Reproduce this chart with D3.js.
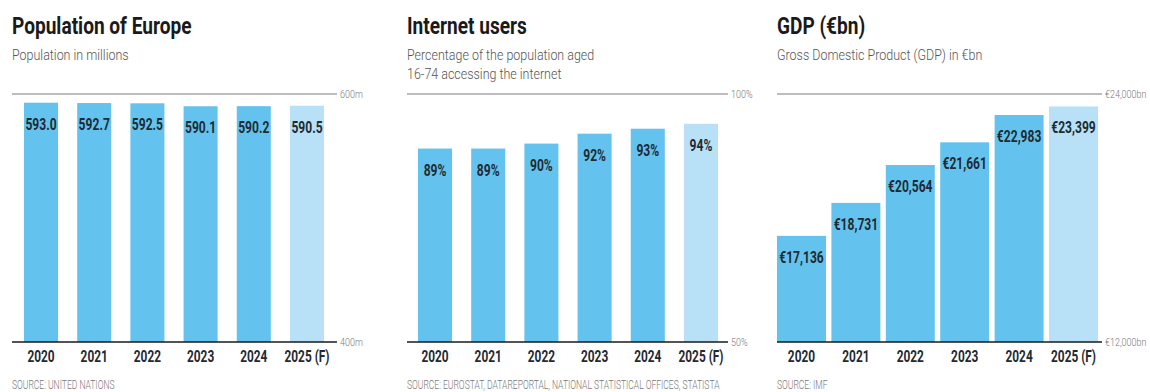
<!DOCTYPE html>
<html>
<head>
<meta charset="utf-8">
<script src="https://cdn.jsdelivr.net/npm/d3@7"></script>
<style>
  html, body { margin: 0; padding: 0; background: #fff; }
  svg { display: block; }
  text { font-family: Roboto, "Noto Sans", sans-serif; }
  .title { font-weight: 700; fill: #1a1a1a; }
  .sub { font-weight: 300; fill: #555; }
  .val, .year { font-weight: 700; fill: #1f2a33; }
  .tick-lbl { fill: #777; font-weight: 300; }
  .src { fill: #777; font-weight: 300; }
</style>
</head>
<body>
<svg id="chart" width="1150" height="392"></svg>
<script>
// Shared categories
const years = ["2020", "2021", "2022", "2023", "2024", "2025 (F)"];

// Population of Europe (millions)
const population = [593.0, 592.7, 592.5, 590.1, 590.2, 590.5];
const popTicks = [400, 600];

// Internet users (% of population aged 16-74)
const internet = [89, 89, 90, 92, 93, 94];
const netTicks = [50, 100];

// GDP (€bn)
const gdp = [17136, 18731, 20564, 21661, 22983, 23399];
const gdpTicks = [12000, 24000];

const svg = d3.select("#chart");
const BLUE = "#63c3ee";
const LIGHT = "#b8e0f6";
const TOP = 94, BASE = 342;

// Narrow the glyphs horizontally so the type reads as a condensed face.
function condense(sel, k) {
  sel.each(function () {
    const t = d3.select(this);
    const x = +t.attr("x") || 0, y = +t.attr("y") || 0;
    t.attr("x", null).attr("y", null)
      .attr("transform", `translate(${x},${y}) scale(${k},1)`);
  });
}

function panel(opts) {
  const g = svg.append("g");
  const x = d3.scaleBand().domain(years).range(opts.barRange)
    .paddingInner(opts.pad).paddingOuter(0);
  const y = d3.scaleLinear().domain(opts.ticks).range([BASE, TOP]);

  condense(g.append("text").attr("class", "title").attr("x", opts.left).attr("y", 34)
    .attr("font-size", 23).text(opts.title), 0.83);
  opts.subtitle.forEach((s, i) => {
    condense(g.append("text").attr("class", "sub").attr("x", opts.left).attr("y", 60 + i * 19)
      .attr("font-size", 14.5).text(s), 0.86);
  });

  // top reference line
  g.append("line").attr("x1", opts.left).attr("x2", opts.lineEnd)
    .attr("y1", y(opts.ticks[1])).attr("y2", y(opts.ticks[1]))
    .attr("stroke", "#bdbdbd").attr("stroke-width", 2.2);

  g.selectAll("rect").data(opts.values).join("rect")
    .attr("x", (d, i) => x(years[i]))
    .attr("width", x.bandwidth())
    .attr("y", d => y(d))
    .attr("height", d => BASE - y(d))
    .attr("fill", (d, i) => i === years.length - 1 ? LIGHT : BLUE);

  const vals = g.selectAll("text.val").data(opts.values).join("text")
    .attr("class", "val")
    .attr("x", (d, i) => x(years[i]) + x.bandwidth() / 2)
    .attr("y", d => y(d) + 27)
    .attr("text-anchor", "middle")
    .attr("font-size", 17)
    .text(opts.fmt);
  condense(vals, 0.71);

  // baseline
  g.append("line").attr("x1", opts.left).attr("x2", opts.lineEnd)
    .attr("y1", BASE).attr("y2", BASE)
    .attr("stroke", "#1a1a1a").attr("stroke-width", 1.6);

  // scale end labels
  const yAxis = d3.axisRight(y).tickValues(opts.ticks).tickSize(0).tickPadding(3)
    .tickFormat(opts.tickFmt);
  const ya = g.append("g").attr("transform", `translate(${opts.lineEnd},0)`).call(yAxis);
  ya.select(".domain").remove();
  ya.selectAll("text").attr("class", "tick-lbl").attr("font-size", 11.5).attr("fill", null)
    .attr("font-family", null);
  condense(ya.selectAll("text"), 0.78);

  const xAxis = d3.axisBottom(x).tickSize(0).tickPadding(6);
  const xa = g.append("g").attr("transform", `translate(0,${BASE})`).call(xAxis);
  xa.select(".domain").remove();
  xa.selectAll("text").attr("class", "year").attr("font-size", 16.5).attr("fill", null)
    .attr("font-family", null).attr("dy", "0.85em");
  condense(xa.selectAll("text"), 0.72);

  condense(g.append("text").attr("class", "src").attr("x", opts.left).attr("y", 389)
    .attr("font-size", 12).text(opts.source), 0.71);
}

panel({
  title: "Population of Europe",
  subtitle: ["Population in millions"],
  left: 12, lineEnd: 337, barRange: [24, 324], pad: 0.36,
  values: population, ticks: popTicks,
  fmt: d => d3.format(".1f")(d),
  tickFmt: d => d + "m",
  source: "SOURCE: UNITED NATIONS"
});

panel({
  title: "Internet users",
  subtitle: ["Percentage of the population aged", "16-74 accessing the internet"],
  left: 407, lineEnd: 728, barRange: [418, 718], pad: 0.36,
  values: internet, ticks: netTicks,
  fmt: d => d + "%",
  tickFmt: d => d + "%",
  source: "SOURCE: EUROSTAT, DATAREPORTAL, NATIONAL STATISTICAL OFFICES, STATISTA"
});

panel({
  title: "GDP (€bn)",
  subtitle: ["Gross Domestic Product (GDP) in €bn"],
  left: 777, lineEnd: 1102, barRange: [777, 1098], pad: 0.1,
  values: gdp, ticks: gdpTicks,
  fmt: d => "€" + d3.format(",")(d),
  tickFmt: d => "€" + d3.format(",")(d) + "bn",
  source: "SOURCE: IMF"
});
</script>
</body>
</html>
